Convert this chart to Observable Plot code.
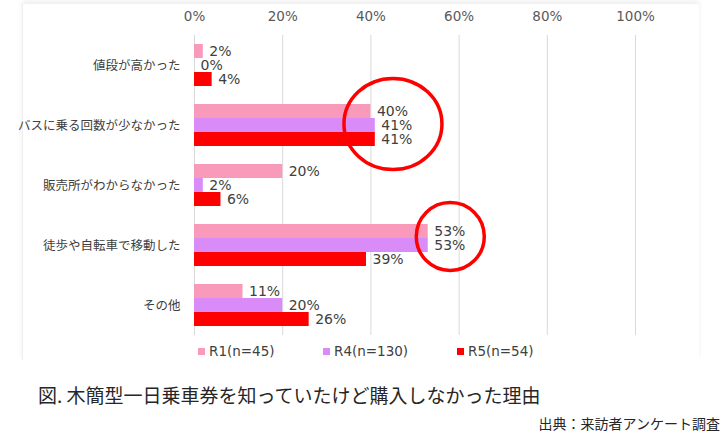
<!DOCTYPE html>
<html>
<head>
<meta charset="utf-8">
<script src="https://cdn.jsdelivr.net/npm/d3@7"></script>
<script src="https://cdn.jsdelivr.net/npm/@observablehq/plot@0.6"></script>
<style>
  html, body { margin: 0; padding: 0; background: #fff; }
  #wrap { position: relative; width: 722px; height: 433px; overflow: hidden; font-family: "Noto Sans CJK JP", sans-serif; }
  #card { position: absolute; left: 22px; top: 4px; width: 676px; height: 356px; border-left: 1px solid #eeeeee; box-shadow: 0 -3px 5px rgba(0,0,0,0.07); }
  #chart { position: absolute; left: 0; top: 0; }
  .leg { position: absolute; top: 343px; font-family: "DejaVu Sans", sans-serif; font-size: 13.5px; color: #404040; line-height: 16px; white-space: nowrap; }
  .sw { position: absolute; width: 7px; height: 7px; top: 348px; }
  #title { position: absolute; left: 38px; top: 382px; font-size: 19px; color: #262626; white-space: nowrap; line-height: 26px; }
  #caption { position: absolute; right: 2px; top: 413px; font-size: 14px; color: #262626; white-space: nowrap; line-height: 20px; }
</style>
</head>
<body>
<div id="wrap">
  <div id="card"></div>
  <div id="chart"></div>
  <div id="title">図. 木簡型一日乗車券を知っていたけど購入しなかった理由</div>
  <div id="caption">出典：来訪者アンケート調査</div>
</div>
<script>
const categories = ["値段が高かった", "バスに乗る回数が少なかった", "販売所がわからなかった", "徒歩や自転車で移動した", "その他"];
const seriesNames = ["R1(n=45)", "R4(n=130)", "R5(n=54)"];
const r1Values = [2, 40, 20, 53, 11];
const r4Values = [0, 41, 2, 53, 20];
const r5Values = [4, 41, 6, 39, 26];
const xTicks = [0, 20, 40, 60, 80, 100];
const seriesColors = ["#fa9abb", "#d98cf7", "#ff0000"];

const seriesValues = [r1Values, r4Values, r5Values];
const data = [];
categories.forEach((c, i) => {
  seriesNames.forEach((s, j) => data.push({category: c, series: s, value: seriesValues[j][i]}));
});

// highlighted groups (red ellipses in the original)
const highlightA = [{category: categories[1], series: seriesNames[1], x: 45}];
const highlightB = [{category: categories[3], series: seriesNames[0], x: 58}];

function ellipseSymbol(aspect) {
  return {
    draw(ctx, size) {
      const r = Math.sqrt(size / Math.PI);
      const rx = r * aspect, ry = r, k = 0.5523;
      ctx.moveTo(rx, 0);
      ctx.bezierCurveTo(rx, ry * k, rx * k, ry, 0, ry);
      ctx.bezierCurveTo(-rx * k, ry, -rx, ry * k, -rx, 0);
      ctx.bezierCurveTo(-rx, -ry * k, -rx * k, -ry, 0, -ry);
      ctx.bezierCurveTo(rx * k, -ry, rx, -ry * k, rx, 0);
      ctx.closePath();
    }
  };
}

const plot = Plot.plot({
  width: 722,
  height: 345,
  marginTop: 34,
  marginBottom: 9,
  marginLeft: 194,
  marginRight: 87,
  style: {fontFamily: '"DejaVu Sans", "Noto Sans CJK JP", sans-serif', background: "transparent", overflow: "visible"},
  x: {domain: [0, 100], axis: null},
  y: {domain: seriesNames, paddingInner: 0, paddingOuter: 0.54, axis: null},
  fy: {domain: categories, padding: 0, axis: null},
  color: {domain: seriesNames, range: seriesColors},
  marks: [
    Plot.gridX({ticks: xTicks, stroke: "#d9d9d9", strokeOpacity: 1, strokeWidth: 1}),
    Plot.axisX({anchor: "top", ticks: xTicks, tickFormat: d => d + "%", tickSize: 0, tickPadding: 15, fontSize: 13.5, fill: "#595959", label: null}),
    Plot.axisFy({anchor: "left", tickSize: 0, tickPadding: 14, fontSize: 12.5, fill: "#404040", fontFamily: '"Noto Sans CJK JP", sans-serif', label: null}),
    Plot.barX(data, {x: "value", y: "series", fy: "category", fill: "series"}),
    Plot.text(data, {x: "value", y: "series", fy: "category", text: d => d.value + "%", dx: 6, dy: 0.5, textAnchor: "start", fontSize: 14, fill: "#404040"}),
    Plot.dot(highlightA, {x: "x", y: "series", fy: "category", dy: -1.5, r: 45.5, symbol: ellipseSymbol(1.077), fill: "none", stroke: "#ff0000", strokeWidth: 3.5}),
    Plot.dot(highlightB, {x: "x", y: "series", fy: "category", dy: 5, r: 34, symbol: ellipseSymbol(1), fill: "none", stroke: "#ff0000", strokeWidth: 3.5})
  ]
});
document.getElementById("chart").appendChild(plot);

// legend
const wrap = document.getElementById("wrap");
const legendX = [198, 323, 457];
seriesNames.forEach((s, i) => {
  const sw = document.createElement("div");
  sw.className = "sw";
  sw.style.left = legendX[i] + "px";
  sw.style.background = plot.scale("color").apply(s);
  wrap.appendChild(sw);
  const t = document.createElement("div");
  t.className = "leg";
  t.style.left = (legendX[i] + 11) + "px";
  t.textContent = s;
  wrap.appendChild(t);
});
</script>
</body>
</html>
